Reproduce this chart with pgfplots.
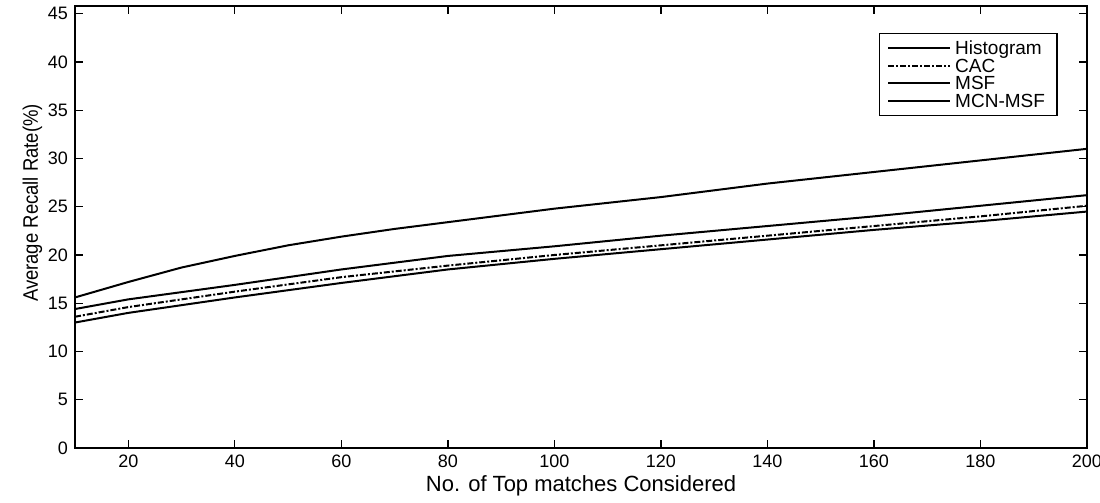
\documentclass[border=0pt]{standalone}
\usepackage{pgfplots}
\pgfplotsset{compat=1.18}
\usepackage{fontspec}
\setmainfont{Liberation Sans}
\begin{document}
\begin{tikzpicture}
\useasboundingbox (-37.5pt,-27.5pt) rectangle (512.5pt,224pt);
\begin{axis}[
    scale only axis,
    width=506pt, height=221pt,
    xmin=10, xmax=200, ymin=0, ymax=45.8,
    xtick={20,40,...,200},
    ytick={0,5,...,45},
    tick align=inside,
    major tick length=4pt,
    axis line style={line width=0.9pt},
    tick style={line width=0.7pt, black},
    tick label style={font=\fontsize{9}{10}\selectfont},
    /pgf/number format/assume math mode=true,
    xlabel={No. of Top matches Considered},
    ylabel={\scalebox{0.88}[1]{Average Recall Rate(\%)}},
    xlabel style={font=\fontsize{11}{12}\selectfont, yshift=3pt},
    ylabel style={font=\fontsize{10.5}{12}\selectfont, yshift=-4pt, xshift=12pt},
    legend style={at={(0.971,0.939)}, anchor=north east,
        font=\fontsize{9.5}{10}\selectfont, draw=black, line width=0.7pt,
        nodes={inner ysep=0.5pt, text height=7pt, text depth=0.5pt},
        row sep=0.3pt, inner xsep=4pt, inner ysep=3pt},
    legend cell align=left,
    legend image code/.code={\draw[#1] (0pt,0pt) -- (31pt,0pt);},
]
\addplot[black, line width=1pt] coordinates {(10,15.6) (20,17.2) (30,18.7) (40,19.9) (50,21.0) (60,21.9) (70,22.7) (80,23.4) (100,24.8) (120,26.0) (140,27.4) (160,28.6) (180,29.8) (200,31.0)};
\addplot[black, line width=1pt, densely dashdotted] coordinates {(10,13.6) (20,14.6) (40,16.2) (60,17.7) (80,18.9) (100,20.0) (120,21.0) (140,22.0) (160,23.0) (180,24.0) (200,25.1)};
\addplot[black, line width=1pt] coordinates {(10,14.4) (20,15.4) (40,16.9) (60,18.5) (80,19.9) (100,20.9) (120,22.0) (140,23.0) (160,24.0) (180,25.1) (200,26.2)};
\addplot[black, line width=1pt] coordinates {(10,13.0) (20,14.0) (40,15.6) (60,17.1) (80,18.5) (100,19.6) (120,20.6) (140,21.6) (160,22.6) (180,23.5) (200,24.5)};
\legend{Histogram,CAC,MSF,MCN-MSF}
\end{axis}
\end{tikzpicture}
\end{document}
